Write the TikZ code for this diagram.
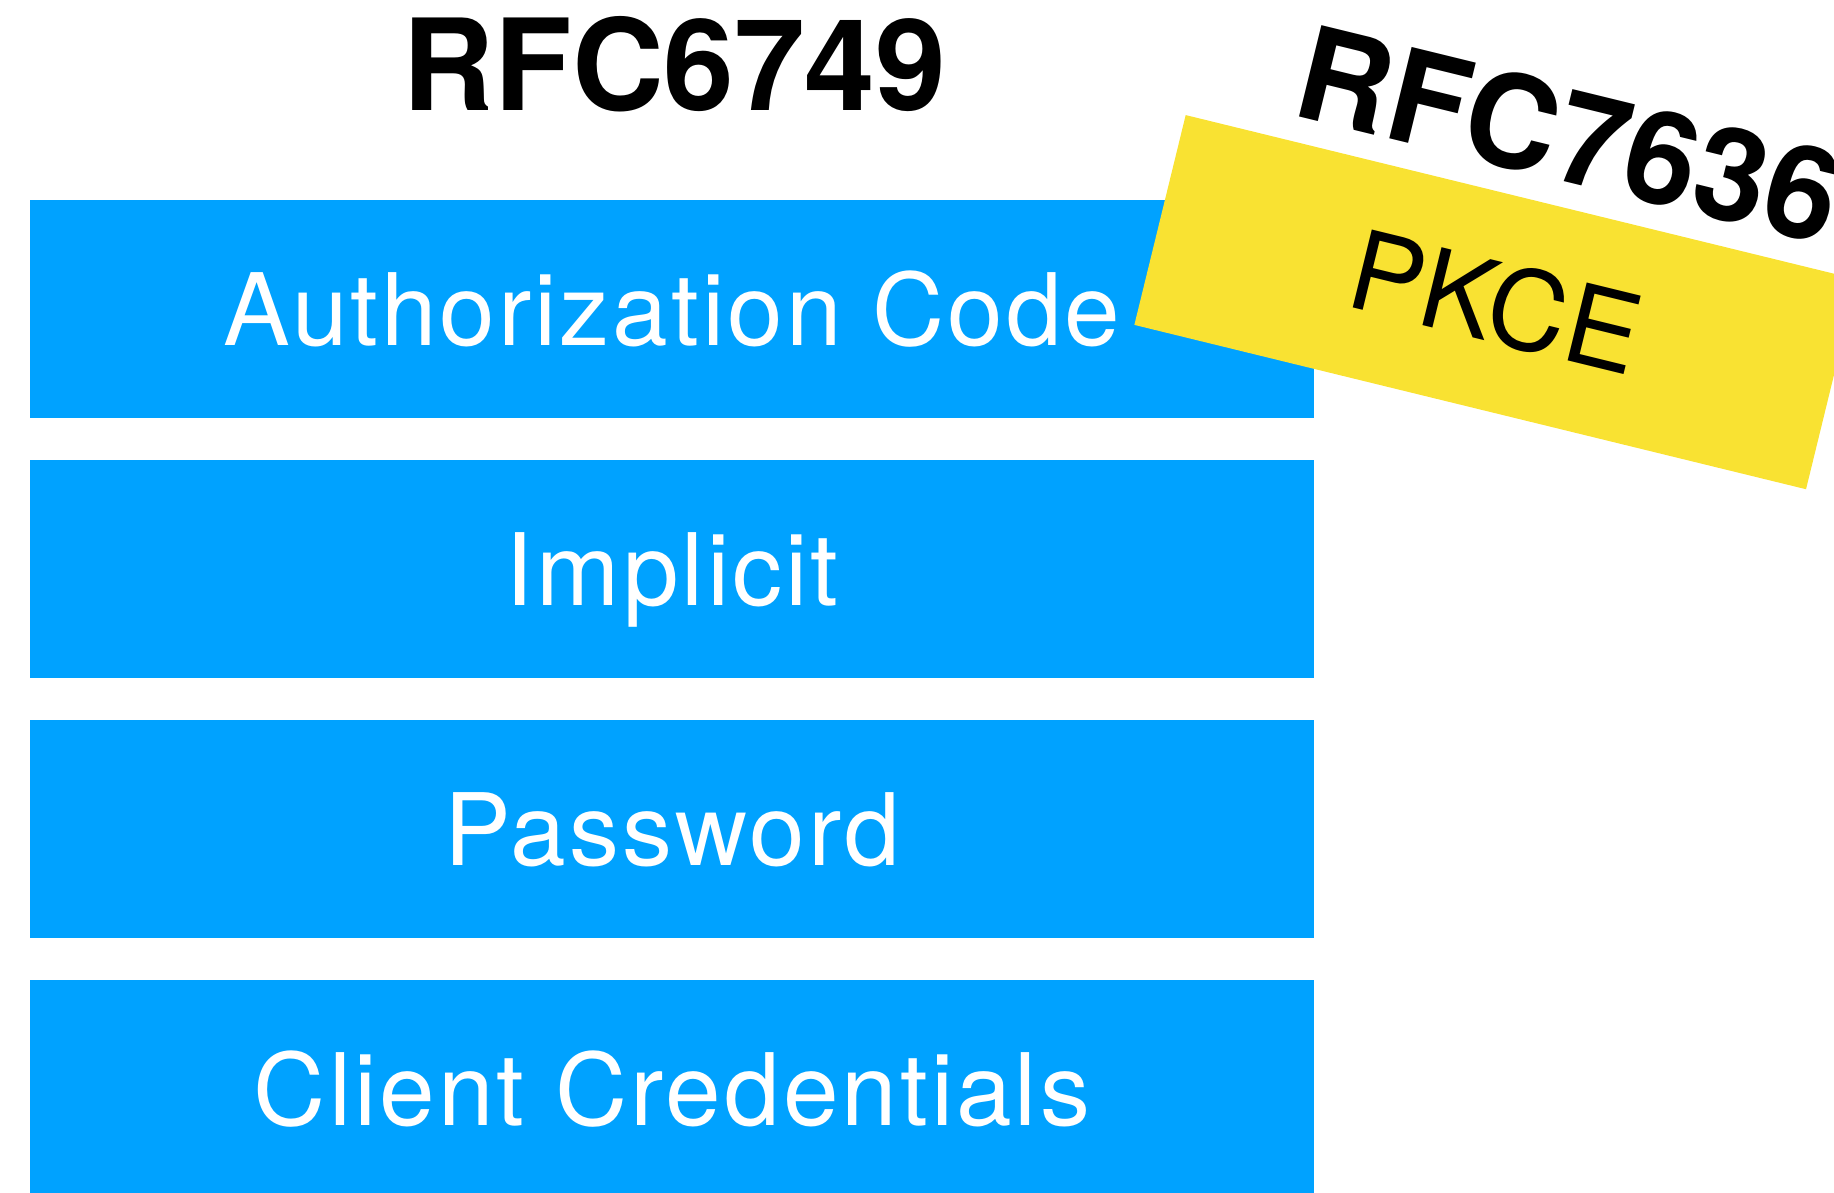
\documentclass[tikz,border=0pt]{standalone}
\usepackage{fontspec}
\setmainfont{TeX Gyre Heros}
\newfontfamily\labelfont[LetterSpace=3]{TeX Gyre Heros}
\definecolor{boxblue}{RGB}{0,162,255}
\definecolor{pkceyellow}{RGB}{249,226,50}
\tikzset{
  flowbox/.style={rectangle, fill=boxblue, draw=none, inner sep=0pt,
    minimum width=1284pt, minimum height=218pt, text=white,
    font=\labelfont\fontsize{100}{110}\selectfont, text height=72pt, text depth=0pt},
  pkcebox/.style={rectangle, fill=pkceyellow, draw=none, inner sep=0pt,
    minimum width=691.5pt, minimum height=216pt, text=black, rotate=-13.75,
    font=\fontsize{110}{120}\selectfont, text height=79pt, text depth=0pt},
  titlelbl/.style={inner sep=0pt, text=black, anchor=base,
    font=\bfseries\fontsize{127}{140}\selectfont},
  rfclbl/.style={inner sep=0pt, text=black, anchor=base, rotate=-13.75,
    font=\bfseries\fontsize{129}{140}\selectfont}
}
\begin{document}
\begin{tikzpicture}[x=1pt,y=-1pt]
\useasboundingbox (0,0) rectangle (1834,1192);
\clip (0,0) rectangle (1834,1192);
\node[flowbox] (authcode) at (672,309) {Authorization Code};
\node[flowbox] (implicit) at (672,569) {Implicit};
\node[flowbox] (password) at (672,829) {Password};
\node[flowbox] (clientcred) at (672,1089) {Client Credentials};
\node[pkcebox] (pkce) at (1495.85,302.15) {PKCE};
\node[titlelbl] (rfc6749) at (674.5,110) {RFC6749};
\node[rfclbl] (rfc7636) at (1557.7,180.2) {RFC7636};
\end{tikzpicture}
\end{document}
